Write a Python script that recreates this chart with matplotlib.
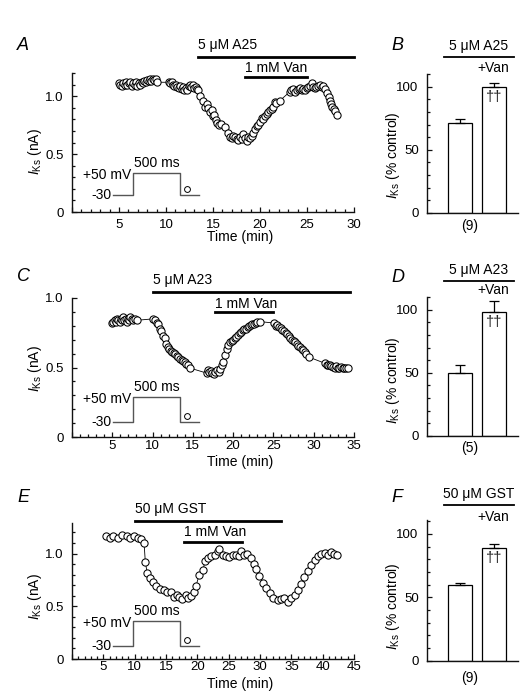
import matplotlib
matplotlib.use("Agg")
import matplotlib.pyplot as plt
from matplotlib.lines import Line2D
from matplotlib.ticker import MultipleLocator, FuncFormatter
import matplotlib.transforms as mtransforms

plt.rcParams['font.family'] = ['Liberation Sans', 'DejaVu Sans']
plt.rcParams['mathtext.fontset'] = 'custom'
plt.rcParams['mathtext.rm'] = 'Liberation Sans'
plt.rcParams['mathtext.it'] = 'Liberation Sans:italic'

# ---------------- data ----------------
A_t = [5.0, 5.15, 5.3, 5.45, 5.6, 5.75, 5.9, 6.05, 6.2, 6.35, 6.5, 6.65, 6.8, 6.95, 7.1, 7.25, 7.4, 7.55,
       7.7, 7.85, 8.0, 8.15, 8.3, 8.45, 8.6, 8.75, 8.9, 9.05,
       10.3, 10.45, 10.6, 10.75, 10.9, 11.05, 11.2, 11.35, 11.5, 11.65, 11.8, 11.95, 12.1, 12.25, 12.4,
       12.55, 12.7, 12.85, 13.0, 13.15, 13.3, 13.45,
       13.6, 13.9, 14.15, 14.35, 14.5, 14.7, 14.85, 15.0, 15.15, 15.3, 15.45, 15.6, 15.8,
       16.3, 16.6, 16.8, 17.0, 17.15, 17.3, 17.5, 17.7, 17.9, 18.05, 18.2, 18.4, 18.6, 18.75, 18.9,
       19.1, 19.3, 19.5, 19.65, 19.8, 20.0, 20.2, 20.35, 20.5, 20.7, 20.85, 21.1, 21.25, 21.4, 21.6,
       21.75, 22.1, 23.2, 23.35, 23.5, 23.7, 23.9, 24.1, 24.3, 24.45, 24.6, 24.8, 24.96, 25.15, 25.3,
       25.5, 25.65, 25.8, 26.0, 26.2, 26.4, 26.55, 26.7, 26.9, 27.1, 27.3, 27.4, 27.55, 27.7, 27.85,
       28.0, 28.2]
A_i = [1.11, 1.10, 1.09, 1.11, 1.10, 1.12, 1.10, 1.11, 1.12, 1.09, 1.11, 1.10, 1.12, 1.09, 1.11, 1.10, 1.12, 1.11,
       1.13, 1.12, 1.14, 1.13, 1.15, 1.13, 1.15, 1.14, 1.15, 1.12,
       1.12, 1.11, 1.12, 1.10, 1.09, 1.10, 1.08, 1.07, 1.09, 1.06, 1.08, 1.05, 1.07, 1.05, 1.09,
       1.10, 1.08, 1.10, 1.07, 1.08, 1.06, 1.05,
       1.00, 0.96, 0.91, 0.93, 0.90, 0.86, 0.88, 0.83, 0.84, 0.79, 0.77, 0.75, 0.76,
       0.73, 0.68, 0.65, 0.64, 0.66, 0.65, 0.63, 0.62, 0.65, 0.63, 0.67, 0.64, 0.61, 0.65, 0.64,
       0.66, 0.68, 0.72, 0.74, 0.75, 0.78, 0.81, 0.80, 0.83, 0.85, 0.86, 0.88, 0.89, 0.91, 0.95,
       0.94, 0.96, 1.04, 1.05, 1.06, 1.04, 1.05, 1.06, 1.07, 1.05, 1.06, 1.05, 1.07, 1.08, 1.09,
       1.11, 1.08, 1.07, 1.08, 1.09, 1.10, 1.08, 1.09, 1.06, 1.03, 0.99, 0.96, 0.93, 0.91, 0.89,
       0.87, 0.84]

C_t = [5.0, 5.15, 5.3, 5.45, 5.6, 5.75, 5.9, 6.05, 6.2, 6.35, 6.5, 6.65, 6.8, 6.95, 7.1, 7.25, 7.4, 7.55,
       7.8, 8.1,
       10.1, 10.3, 10.5, 10.7, 10.9, 11.1, 11.3, 11.5, 11.7, 11.9, 12.1, 12.25, 12.4, 12.6, 12.8, 13.0,
       13.2, 13.4, 13.6, 13.8, 14.0, 14.2, 14.4, 14.7,
       16.7, 16.85, 17.0, 17.2, 17.4, 17.6, 17.8, 18.0, 18.2, 18.4, 18.6, 18.8, 19.0, 19.2, 19.4, 19.6,
       19.8, 20.0, 20.2, 20.4, 20.6, 20.8, 21.0, 21.2, 21.4, 21.6, 21.8, 22.0, 22.2, 22.4, 22.6, 22.8,
       23.0, 23.3,
       25.1, 25.3, 25.5, 25.7, 25.9, 26.1, 26.3, 26.5, 26.7, 26.9, 27.1, 27.3, 27.5, 27.7, 27.9, 28.1,
       28.3, 28.5, 28.7, 28.9, 29.1, 29.4,
       31.4, 31.6, 31.8, 32.0, 32.2, 32.4, 32.6, 32.8, 33.0, 33.2, 33.4, 33.6, 33.8, 34.0, 34.3]
C_i = [0.82, 0.83, 0.84, 0.83, 0.85, 0.84, 0.83, 0.85, 0.84, 0.86, 0.84, 0.85, 0.83, 0.85, 0.84, 0.86, 0.85, 0.84,
       0.85, 0.84,
       0.85, 0.84, 0.82, 0.81, 0.78, 0.76, 0.73, 0.71, 0.67, 0.65, 0.63, 0.62, 0.61, 0.605, 0.60, 0.585,
       0.575, 0.56, 0.555, 0.545, 0.54, 0.525, 0.515, 0.495,
       0.46, 0.48, 0.47, 0.475, 0.46, 0.45, 0.465, 0.48, 0.47, 0.49, 0.52, 0.54, 0.59, 0.63, 0.66, 0.68,
       0.69, 0.70, 0.71, 0.72, 0.735, 0.745, 0.755, 0.77, 0.775, 0.78, 0.79, 0.80, 0.805, 0.81, 0.815, 0.82,
       0.825, 0.83,
       0.82, 0.80, 0.805, 0.79, 0.785, 0.77, 0.76, 0.75, 0.74, 0.725, 0.715, 0.70, 0.69, 0.68, 0.67, 0.655,
       0.645, 0.63, 0.625, 0.61, 0.60, 0.575,
       0.53, 0.52, 0.515, 0.52, 0.51, 0.505, 0.50, 0.51, 0.495, 0.50, 0.505, 0.50, 0.495, 0.50, 0.50]

E_t = [5.5, 6.0, 6.6, 7.3, 8.0, 8.7, 9.3, 9.9, 10.5, 11.0, 11.5, 11.7, 12.0, 12.5, 13.0, 13.4, 14.0, 14.7,
       15.2, 15.8, 16.2, 16.7, 17.1, 17.6, 18.2, 18.5, 19.0, 19.4, 19.8, 20.3, 20.9, 21.2, 21.7, 22.2,
       22.8, 23.3, 23.5, 24.1, 24.6, 25.1, 25.7, 26.2, 26.6, 26.9, 27.5, 28.0, 28.5, 29.1, 29.4, 29.9,
       30.5, 31.0, 31.6, 32.1, 32.8, 33.3, 33.9, 34.4, 35.0, 35.6, 36.0, 36.6, 37.1, 37.6, 38.2, 38.7,
       39.2, 39.8, 40.3, 40.9, 41.4, 41.8, 42.3]
E_i = [1.17, 1.15, 1.165, 1.145, 1.18, 1.165, 1.15, 1.17, 1.145, 1.135, 1.10, 0.92, 0.815, 0.77, 0.735, 0.69,
       0.665, 0.655, 0.635, 0.635, 0.585, 0.61, 0.585, 0.57, 0.61, 0.58, 0.595, 0.635, 0.695, 0.80, 0.84,
       0.925, 0.96, 0.975, 0.99, 1.02, 1.04, 0.99, 0.975, 0.965, 0.99, 0.99, 0.975, 1.02, 0.99, 0.995,
       0.96, 0.90, 0.85, 0.785, 0.72, 0.675, 0.625, 0.58, 0.555, 0.57, 0.58, 0.545, 0.58, 0.61, 0.655,
       0.71, 0.775, 0.83, 0.89, 0.935, 0.975, 1.0, 1.005, 0.99, 1.015, 0.995, 0.99]

bar_labels = ['', '+Van']
B_vals, B_err = [71, 100], [3, 3]
D_vals, D_err = [50, 98], [6.5, 9]
F_vals, F_err = [59.5, 89], [2, 3]
n_B, n_D, n_F = '(9)', '(5)', '(9)'

# drug application periods (min)
A_drug, A_van = (13.4, 30.0), (18.4, 25.0)
C_drug, C_van = (10.1, 34.5), (17.7, 25.0)
E_drug, E_van = (10.1, 33.3), (17.9, 27.1)

# ---------------- figure ----------------
W, H = 527, 698
fig = plt.figure(figsize=(W / 100, H / 100), dpi=100)


def fx(x):
    return x / W


def fy(y):
    return 1 - y / H


def add_axes(l, t, r, b):
    return fig.add_axes([fx(l), fy(b), (r - l) / W, (b - t) / H])


FS = 10
TICKFS = 9.5
SPC = '#111111'


def style(ax, xpad=5):
    for s in ('top', 'right'):
        ax.spines[s].set_visible(False)
    for s in ('left', 'bottom'):
        ax.spines[s].set_linewidth(1.0)
        ax.spines[s].set_color(SPC)
    ax.tick_params(which='both', direction='in', colors=SPC, labelcolor='black', labelsize=TICKFS, width=0.9)
    ax.tick_params(which='major', length=3.5)
    ax.tick_params(which='minor', length=2)
    ax.tick_params(axis='y', which='major', pad=6)
    ax.tick_params(axis='x', which='major', pad=xpad)


def time_panel(ax, t, i, xmax, ymax, drug, van, drug_txt, ypx_drug, ypx_van, tpx_drug, tpx_van, xpad):
    ax.plot(t, i, '-', color='black', lw=0.6, zorder=2)
    ax.plot(t, i, 'o', mfc='white', mec='black', ms=5.2, mew=0.75, zorder=3, clip_on=False)
    ax.set_xlim(0, xmax)
    ax.set_ylim(0, ymax)
    ax.xaxis.set_major_locator(MultipleLocator(5))
    ax.xaxis.set_minor_locator(MultipleLocator(1))
    ax.yaxis.set_major_locator(MultipleLocator(0.5))
    ax.yaxis.set_minor_locator(MultipleLocator(0.1))
    ax.xaxis.set_major_formatter(FuncFormatter(lambda v, p: '' if v == 0 else f'{v:.0f}'))
    ax.yaxis.set_major_formatter(FuncFormatter(lambda v, p: '0' if v == 0 else f'{v:.1f}'))
    style(ax, xpad)
    tr = mtransforms.blended_transform_factory(ax.transData, fig.transFigure)
    ax.add_line(Line2D(list(drug), [fy(ypx_drug)] * 2, transform=tr, color='black', lw=2.0, clip_on=False))
    ax.add_line(Line2D(list(van), [fy(ypx_van)] * 2, transform=tr, color='black', lw=2.0, clip_on=False))
    ax.text(drug[0], fy(tpx_drug), drug_txt, transform=tr, ha='left', va='center', fontsize=FS)
    ax.text(van[0], fy(tpx_van), '1 mM Van', transform=tr, ha='left', va='center', fontsize=FS)


def protocol(y_lo, y_hi):
    g = '#555555'
    xs = [113, 133, 133, 180, 180, 199]
    ys = [y_lo, y_lo, y_hi, y_hi, y_lo, y_lo]
    fig.add_artist(Line2D([fx(x) for x in xs], [fy(y) for y in ys], transform=fig.transFigure, color=g, lw=1.0))
    fig.add_artist(Line2D([fx(187)], [fy(y_lo - 6)], transform=fig.transFigure, marker='o', mfc='white',
                          mec='black', ms=4.2, mew=0.7, ls='none'))
    fig.text(fx(111), fy(y_lo), '-30', ha='right', va='center', fontsize=FS)
    fig.text(fx(131), fy(y_hi + 2), '+50 mV', ha='right', va='center', fontsize=FS)
    fig.text(fx(157), fy(y_hi - 10), '500 ms', ha='center', va='center', fontsize=FS)


def bar_panel(ax, vals, errs, ymax, drug_txt, y_txt, y_line, y_van):
    x = [0, 1]
    ax.bar(x, vals, width=0.7, color='white', edgecolor='black', linewidth=0.9, zorder=2)
    ax.errorbar(x, vals, yerr=[[0, 0], errs], fmt='none', ecolor='black', elinewidth=0.9,
                capsize=3.5, capthick=0.9, zorder=3)
    ax.set_xlim(-0.97, 1.706)
    ax.set_ylim(0, ymax)
    ax.set_xticks([])
    ax.yaxis.set_major_locator(MultipleLocator(50))
    ax.yaxis.set_minor_locator(MultipleLocator(10))
    style(ax)
    ax.text(1, vals[1] - 2.5, '\u2020\u2020', ha='center', va='top', fontsize=10.5, color='#222222')
    fig.add_artist(Line2D([fx(444), fx(514)], [fy(y_line)] * 2, transform=fig.transFigure, color='black', lw=1.3))
    fig.text(fx(479), fy(y_txt), drug_txt, ha='center', va='center', fontsize=FS)
    fig.text(fx(509), fy(y_van), bar_labels[1], ha='right', va='center', fontsize=FS)


IKS = r'$\mathit{I}_{\mathrm{Ks}}$'

# A
axA = add_axes(72, 73, 354, 212)
time_panel(axA, A_t, A_i, 30, 1.2, A_drug, A_van, '5 \u03bcM A25', 56.7, 77.3, 45, 68.3, 5)
protocol(195, 172.7)
fig.text(fx(240), fy(237), 'Time (min)', ha='center', va='center', fontsize=FS)
fig.text(fx(35), fy(152), IKS + ' (nA)', ha='center', va='center', rotation=90, fontsize=FS)

# C
axC = add_axes(72, 298, 354, 437)
time_panel(axC, C_t, C_i, 35, 1.0, C_drug, C_van, '5 \u03bcM A23', 291.7, 312.3, 280, 304, 2.5)
protocol(421.7, 396.7)
fig.text(fx(240), fy(462), 'Time (min)', ha='center', va='center', fontsize=FS)
fig.text(fx(35), fy(369), IKS + ' (nA)', ha='center', va='center', rotation=90, fontsize=FS)

# E
axE = add_axes(72, 523, 354, 659)
time_panel(axE, E_t, E_i, 45, 1.29, E_drug, E_van, '50 \u03bcM GST', 520.7, 541.7, 509, 531.7, 1.2)
protocol(645.7, 620.7)
fig.text(fx(240), fy(684), 'Time (min)', ha='center', va='center', fontsize=FS)
fig.text(fx(35), fy(597), IKS + ' (nA)', ha='center', va='center', rotation=90, fontsize=FS)

# B, D, F
axB = add_axes(427, 74, 518, 213)
bar_panel(axB, B_vals, B_err, 110, '5 \u03bcM A25', 46, 57, 67.5)
fig.text(fx(470), fy(226), n_B, ha='center', va='center', fontsize=FS)
fig.text(fx(393), fy(155), IKS + ' (% control)', ha='center', va='center', rotation=90, fontsize=FS)

axD = add_axes(427, 297, 518, 436)
bar_panel(axD, D_vals, D_err, 110, '5 \u03bcM A23', 270, 281, 290)
fig.text(fx(470), fy(448), n_D, ha='center', va='center', fontsize=FS)
fig.text(fx(393), fy(380), IKS + ' (% control)', ha='center', va='center', rotation=90, fontsize=FS)

axF = add_axes(427, 520, 518, 660.7)
bar_panel(axF, F_vals, F_err, 111, '50 \u03bcM GST', 494, 505, 517)
fig.text(fx(470), fy(678), n_F, ha='center', va='center', fontsize=FS)
fig.text(fx(393), fy(606), IKS + ' (% control)', ha='center', va='center', rotation=90, fontsize=FS)

# panel letters
for letter, (lx, ly) in zip('ABCDEF', [(17, 45.5), (391, 45.5), (17, 276.5), (391, 277),
                                        (17, 497.5), (391, 497.5)]):
    fig.text(fx(lx), fy(ly), letter, ha='left', va='center', fontsize=13, style='italic')

fig.savefig('out.png', dpi=100)
